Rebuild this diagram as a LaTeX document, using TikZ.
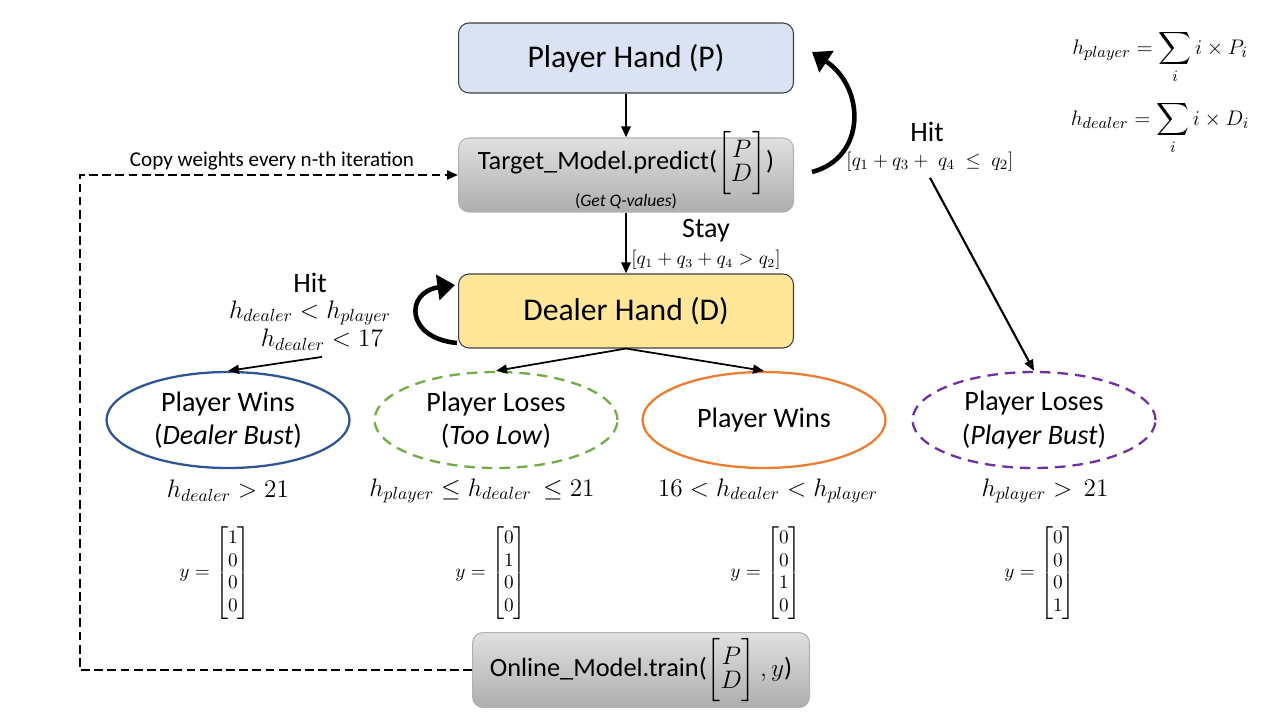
\documentclass[tikz,border=0pt]{standalone}
\usepackage{amsmath,amssymb}
\usepackage{fontspec}
\setmainfont{Carlito}
\usetikzlibrary{arrows.meta, shapes.geometric, positioning}

\definecolor{handblue}{RGB}{218,227,243}
\definecolor{dealeryellow}{RGB}{255,230,153}
\definecolor{winblue}{RGB}{47,85,151}
\definecolor{losegreen}{RGB}{112,173,71}
\definecolor{winorange}{RGB}{237,125,49}
\definecolor{losepurple}{RGB}{112,48,160}

\newcommand{\pdvec}{\begin{bmatrix}P\\[-4pt]D\end{bmatrix}}

\begin{document}
\begin{tikzpicture}[
    x=0.02cm, y=-0.02cm,
    >={Triangle[length=2.2mm,width=1.8mm]},
    hand/.style={draw=black!75, line width=0.6pt, rounded corners=6pt,
                 minimum width=6.7cm, minimum height=1.4cm,
                 font=\fontsize{18}{21}\selectfont},
    model/.style={hand, draw=black!30, top color=black!12, bottom color=black!32},
    outcome/.style={ellipse, line width=1.3pt, minimum width=4.86cm,
                    minimum height=1.92cm, inner sep=0pt, align=center,
                    font=\fontsize{16}{19}\selectfont},
    lose/.style={outcome, dash pattern=on 6pt off 4pt},
    cond/.style={font=\fontsize{14}{16}\selectfont},
    tag/.style={font=\fontsize{16}{18}\selectfont},
    bracket/.style={font=\fontsize{11}{13}\selectfont},
    every edge/.style={draw, ->, line width=1pt}
]
\useasboundingbox (0,0) rectangle (1280,720);

% Boxes
\node[hand, fill=handblue] (player) at (626,58) {Player Hand (P)};
\node[model, minimum height=1.48cm] (tgt) at (626,175) {};
\node[font=\fontsize{15}{18}\selectfont] (tgttext) at (626,163)
    {Target\_Model.predict($\pdvec$)};
\node[font=\fontsize{10}{12}\selectfont] (qval) at (626,201) {(\textit{Get Q-values})};
\node[hand, fill=dealeryellow, minimum height=1.48cm] (dealer) at (626,311) {Dealer Hand (D)};
\node[model, minimum width=6.74cm, minimum height=1.3cm,
      font=\fontsize{15}{18}\selectfont] (online) at (641,670)
    {Online\_Model.train($\pdvec, y$)};

% Outcomes
\node[outcome, draw=winblue] (winA) at (228,420) {Player Wins\\(\textit{Dealer Bust})};
\node[lose, draw=losegreen] (loseA) at (496,420) {Player Loses\\(\textit{Too Low})};
\node[outcome, draw=winorange] (winB) at (764,420) {Player Wins};
\node[lose, draw=losepurple] (loseB) at (1034,420) {Player Loses\\(\textit{Player Bust})};

% Conditions
\node[cond] (cwinA) at (228,491) {$h_{dealer} > 21$};
\node[cond] (closeA) at (482,491) {$h_{player} \le h_{dealer} \,\le 21$};
\node[cond] (cwinB) at (768,491) {$16 < h_{dealer} < h_{player}$};
\node[cond] (closeB) at (1045,491) {$h_{player} >\, 21$};

\node[bracket] (ywinA) at (215,573) {$y = \begin{bmatrix}1\\0\\0\\0\end{bmatrix}$};
\node[bracket] (yloseA) at (491,573) {$y = \begin{bmatrix}0\\1\\0\\0\end{bmatrix}$};
\node[bracket] (ywinB) at (766,573) {$y = \begin{bmatrix}0\\0\\1\\0\end{bmatrix}$};
\node[bracket] (yloseB) at (1040,573) {$y = \begin{bmatrix}0\\0\\0\\1\end{bmatrix}$};

% Actions
\node[tag] (hitP) at (927,132) {Hit};
\node[bracket] (hitPcond) at (930,162) {$[q_1 + q_3 + \;q_4 \;\le\; q_2]$};
\node[tag] (stay) at (706,231) {Stay};
\node[font=\fontsize{10.5}{12}\selectfont] (staycond) at (706,260) {$[q_1 + q_3 + q_4 > q_2]$};
\node[tag] (hitD) at (310,283) {Hit};
\node[cond] (hitDa) at (310,313) {$h_{dealer} < h_{player}$};
\node[cond] (hitDb) at (322,340) {$h_{dealer} < 17$};

% Formulas
\node[font=\fontsize{13}{15}\selectfont] (sumP) at (1160,57) {$\displaystyle h_{player} = \sum_i i \times P_i$};
\node[font=\fontsize{13}{15}\selectfont] (sumD) at (1160,128) {$\displaystyle h_{dealer} = \sum_i i \times D_i$};

\node[font=\fontsize{12}{14}\selectfont] (copy) at (272,161) {Copy weights every n-th iteration};

\coordinate (loopPa) at (812,172);
\coordinate (loopPb) at (812,52);
\coordinate (loopDa) at (457,343);
\coordinate (loopDb) at (455,285);
\coordinate (corner) at (80,670);

\draw (player) edge[line width=1.6pt] (tgt)
      (tgt) edge[line width=1.6pt] (dealer)
      (dealer.south) edge (loseA.north) edge (winB.north)
      (hitDb.south) edge (winA.north)
      (hitPcond.south) edge[line width=1.2pt] (loseB.north);

% Loops
\draw[line width=2.6pt, -{Triangle[length=3.5mm,width=5mm]}]
    (loopPa) .. controls (866,158) and (866,88) .. (loopPb);
\draw[line width=2.6pt, -{Triangle[length=3.5mm,width=5mm]}]
    (loopDa) .. controls (405,338) and (405,292) .. (loopDb);

% Copy weights
\draw[dashed, line width=1.2pt, dash pattern=on 5pt off 2.5pt, ->]
    (online.west) -- (corner) |- (tgt.west);

\end{tikzpicture}
\end{document}
